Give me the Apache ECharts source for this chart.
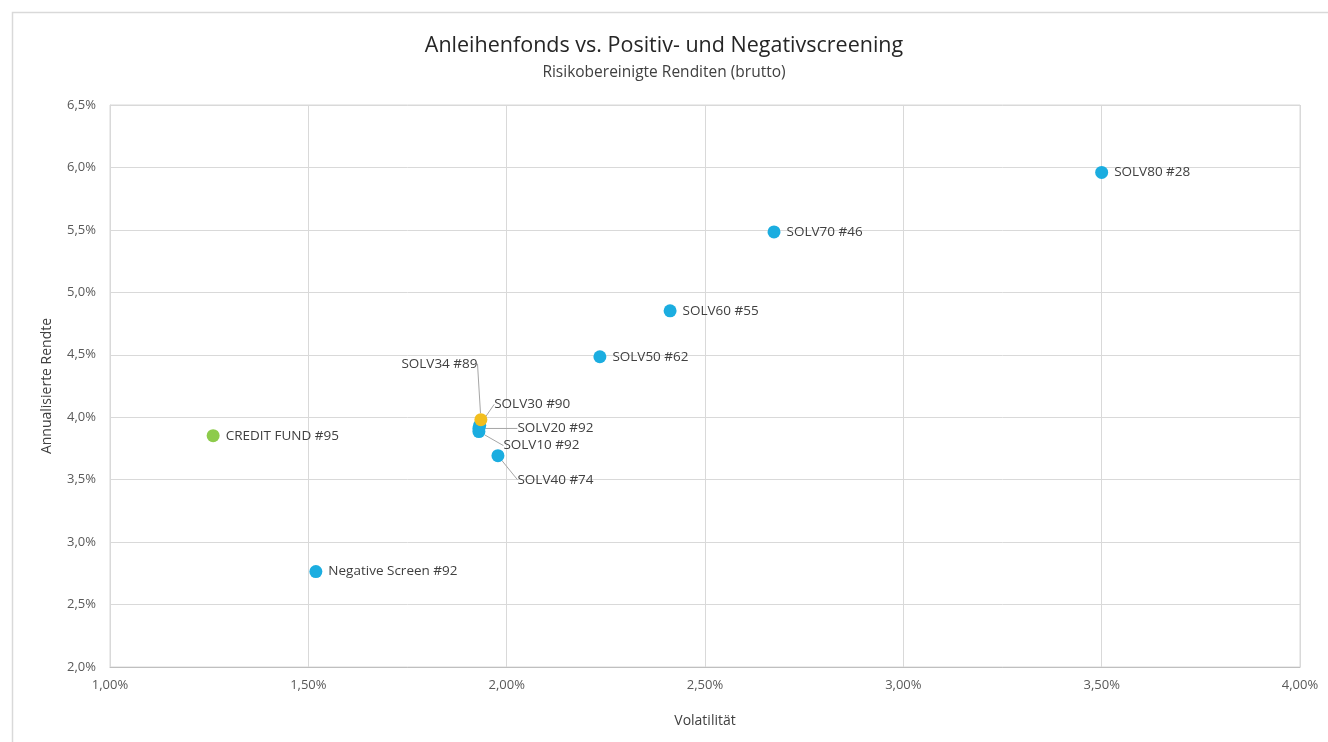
<!DOCTYPE html>
<html>
<head>
<meta charset="utf-8">
<script src="https://cdn.jsdelivr.net/npm/echarts@6/dist/echarts.min.js"></script>
<style>
  html, body { margin: 0; padding: 0; background: #ffffff; }
  #chart { width: 1328px; height: 742px; }
</style>
</head>
<body>
<div id="chart"></div>
<script>
// ---- Data ----
const names = ['SOLV80 #28', 'SOLV70 #46', 'SOLV60 #55', 'SOLV50 #62', 'SOLV40 #74',
               'SOLV30 #90', 'SOLV20 #92', 'SOLV10 #92', 'Negative Screen #92',
               'CREDIT FUND #95', 'SOLV34 #89'];
const volatility = [3.50, 2.674, 2.412, 2.235, 1.978, 1.932, 1.930, 1.930, 1.519, 1.260, 1.935];
const returns    = [5.96, 5.484, 4.852, 4.484, 3.692, 3.935, 3.91, 3.885, 2.764, 3.852, 3.98];
const groups     = ['screen', 'screen', 'screen', 'screen', 'screen', 'screen', 'screen', 'screen', 'screen',
                    'fund', 'positive'];
const xTicks = { min: 1, max: 4, step: 0.5 };
const yTicks = { min: 2, max: 6.5, step: 0.5 };

// ---- Styles / layout ----
const groupColors = { screen: '#1BADE0', fund: '#8DCB4B', positive: '#F2BE1E' };
const labelOffsets = {
  'SOLV34 #89': [-92, -56],
  'SOLV30 #90': [2, -21],
  'SOLV20 #92': [26, 0],
  'SOLV10 #92': [12, 14],
  'SOLV40 #74': [7, 24]
};
const FONT = 'Open Sans';

function buildSeries(groupKey) {
  const data = [];
  names.forEach((n, i) => {
    if (groups[i] !== groupKey) return;
    const item = { name: n, value: [volatility[i], returns[i]] };
    if (labelOffsets[n]) item.labelLine = { show: true };
    data.push(item);
  });
  return {
    type: 'scatter',
    name: groupKey,
    data: data,
    symbolSize: 13,
    itemStyle: { color: groupColors[groupKey], opacity: 1 },
    label: {
      show: true,
      position: 'right',
      distance: 6,
      formatter: p => p.name,
      fontFamily: FONT,
      fontSize: 13.5,
      color: '#404040'
    },
    labelLine: { show: false, lineStyle: { color: '#a6a6a6', width: 1 } },
    labelLayout: function (params) {
      const name = data[params.dataIndex] && data[params.dataIndex].name;
      const off = labelOffsets[name];
      if (!off) return {};
      return { dx: off[0], dy: off[1] };
    },
    emphasis: { disabled: true }
  };
}

const chart = echarts.init(document.getElementById('chart'), null, { renderer: 'canvas' });
chart.setOption({
  backgroundColor: '#ffffff',
  animation: false,
  title: {
    text: 'Anleihenfonds vs. Positiv- und Negativscreening',
    subtext: 'Risikobereinigte Renditen (brutto)',
    left: 'center',
    top: 30,
    itemGap: 8,
    textStyle: { fontFamily: FONT, fontSize: 21.5, fontWeight: 'normal', color: '#262626' },
    subtextStyle: { fontFamily: FONT, fontSize: 15.5, color: '#404040' }
  },
  graphic: [{
    type: 'rect',
    shape: { x: 12.5, y: 12.5, width: 1340, height: 760 },
    style: { fill: 'none', stroke: '#d9d9d9', lineWidth: 1.5 },
    silent: true,
    z: -1
  }],
  grid: { left: 110, right: 28, top: 105, bottom: 75, show: true, borderColor: '#d9d9d9', borderWidth: 1 },
  xAxis: {
    type: 'value',
    min: xTicks.min, max: xTicks.max, interval: xTicks.step,
    name: 'Volatilität',
    nameLocation: 'middle',
    nameGap: 47,
    nameTextStyle: { fontFamily: FONT, fontSize: 14, color: '#404040' },
    axisLine: { show: true, lineStyle: { color: '#bfbfbf' } },
    axisTick: { show: false },
    splitLine: { show: true, lineStyle: { color: '#d9d9d9' } },
    axisLabel: {
      margin: 12,
      fontFamily: FONT, fontSize: 13, color: '#595959',
      formatter: v => v.toFixed(2).replace('.', ',') + '%'
    }
  },
  yAxis: {
    type: 'value',
    min: yTicks.min, max: yTicks.max, interval: yTicks.step,
    name: 'Annualisierte Rendte',
    nameLocation: 'middle',
    nameGap: 56,
    nameTextStyle: { fontFamily: FONT, fontSize: 14, color: '#404040' },
    axisLine: { show: true, lineStyle: { color: '#d9d9d9' } },
    axisTick: { show: false },
    splitLine: { show: true, lineStyle: { color: '#d9d9d9' } },
    axisLabel: {
      margin: 14,
      fontFamily: FONT, fontSize: 13, color: '#595959',
      formatter: v => v.toFixed(1).replace('.', ',') + '%'
    }
  },
  series: [buildSeries('screen'), buildSeries('fund'), buildSeries('positive')]
});
</script>
</body>
</html>
